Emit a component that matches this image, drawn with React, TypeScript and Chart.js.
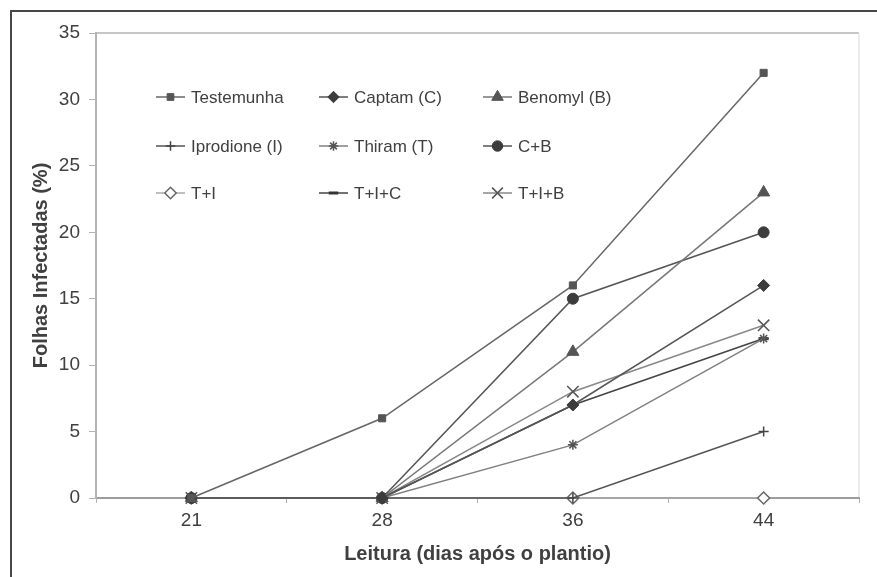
import React, { useEffect, useRef } from 'react';
import { Chart, registerables } from 'chart.js';
import { drawPoint } from 'chart.js/helpers';

Chart.register(...registerables);

const days = ['21', '28', '36', '44'];
const testemunha = [0, 6, 16, 32];
const captam = [0, 0, 7, 16];
const benomyl = [0, 0, 11, 23];
const iprodione = [0, 0, 0, 5];
const thiram = [0, 0, 4, 12];
const cb = [0, 0, 15, 20];
const ti = [0, 0, 0, 0];
const tic = [0, 0, 7, 12];
const tib = [0, 0, 8, 13];

const seriesNames = ['Testemunha', 'Captam (C)', 'Benomyl (B)', 'Iprodione (I)', 'Thiram (T)', 'C+B', 'T+I', 'T+I+C', 'T+I+B'];
const seriesValues = [testemunha, captam, benomyl, iprodione, thiram, cb, ti, tic, tib];

const yTitle = 'Folhas Infectadas (%)';
const xTitle = 'Leitura (dias após o plantio)';

const FONT = "'Liberation Sans', Arial, Helvetica, sans-serif";
const TEXT = '#404040';

const styles = [
  { ps: 'rect', r: 5, line: '#666', mk: '#555', fill: '#555', bw: 1 },
  { ps: 'rectRot', r: 6, line: '#555', mk: '#3c3c3c', fill: '#3c3c3c', bw: 1 },
  { ps: 'triangle', r: 7, line: '#777', mk: '#555', fill: '#555', bw: 1 },
  { ps: 'cross', r: 5, line: '#555', mk: '#444', fill: '#444', bw: 1.5 },
  { ps: 'star', r: 5, line: '#808080', mk: '#555', fill: '#555', bw: 1.5 },
  { ps: 'circle', r: 5.5, line: '#555', mk: '#3c3c3c', fill: '#3c3c3c', bw: 1 },
  { ps: 'rectRot', r: 6, line: '#aaa', mk: '#666', fill: '#fff', bw: 1.5 },
  { ps: 'line', r: 5, line: '#444', mk: '#333', fill: '#333', bw: 3 },
  { ps: 'crossRot', r: 8, line: '#888', mk: '#555', fill: '#555', bw: 1.5 },
];

const legendCols = [156, 319, 483];
const legendRows = [97, 146, 193];

export default function App() {
  const ref = useRef<HTMLCanvasElement>(null);

  useEffect(() => {
    if (!ref.current) return;

    const framePlugin = {
      id: 'frame',
      beforeDraw(chart: any) {
        const { ctx, width, height, chartArea: a } = chart;
        ctx.save();
        ctx.fillStyle = '#fff';
        ctx.fillRect(0, 0, width, height);
        ctx.strokeStyle = '#484848';
        ctx.lineWidth = 2;
        ctx.beginPath();
        ctx.moveTo(11, height + 5);
        ctx.lineTo(11, 11);
        ctx.lineTo(width + 5, 11);
        ctx.stroke();
        ctx.strokeStyle = '#c6c6c6';
        ctx.beginPath();
        ctx.moveTo(a.left, a.top);
        ctx.lineTo(a.right, a.top);
        ctx.stroke();
        ctx.strokeStyle = '#ebebeb';
        ctx.beginPath();
        ctx.moveTo(a.right, a.top);
        ctx.lineTo(a.right, a.bottom);
        ctx.stroke();
        ctx.restore();
      },
    };

    const legendPlugin = {
      id: 'gridLegend',
      afterDraw(chart: any) {
        const { ctx } = chart;
        ctx.save();
        chart.data.datasets.forEach((ds: any, i: number) => {
          const st = styles[i];
          const x0 = legendCols[i % 3];
          const y = legendRows[Math.floor(i / 3)];
          ctx.strokeStyle = st.line;
          ctx.lineWidth = 1.5;
          ctx.beginPath();
          ctx.moveTo(x0, y);
          ctx.lineTo(x0 + 29, y);
          ctx.stroke();
          ctx.fillStyle = st.fill;
          ctx.strokeStyle = st.mk;
          ctx.lineWidth = st.bw;
          drawPoint(ctx, { pointStyle: st.ps, radius: st.r * 0.95, rotation: 0, borderWidth: st.bw } as any, x0 + 14.5, y);
          ctx.fillStyle = TEXT;
          ctx.font = `17px ${FONT}`;
          ctx.textBaseline = 'middle';
          ctx.textAlign = 'left';
          ctx.fillText(ds.label, x0 + 35, y + 1);
        });
        ctx.restore();
      },
    };

    const chart = new Chart(ref.current, {
      type: 'line',
      data: {
        labels: days,
        datasets: seriesNames.map((name, i) => ({
          label: name,
          data: seriesValues[i],
          borderColor: styles[i].line,
          borderWidth: 1.5,
          pointStyle: styles[i].ps as any,
          pointRadius: styles[i].r,
          pointBackgroundColor: styles[i].fill,
          pointBorderColor: styles[i].mk,
          pointBorderWidth: styles[i].bw,
          tension: 0,
          fill: false,
          clip: false as any,
        })),
      },
      options: {
        responsive: false,
        animation: false,
        devicePixelRatio: 1,
        layout: { padding: { top: 33, right: 18, left: 0, bottom: 0 } },
        plugins: {
          legend: { display: false },
          tooltip: { enabled: false },
        },
        scales: {
          x: {
            type: 'category',
            offset: true,
            border: { color: '#9c9c9c', width: 2 },
            grid: {
              offset: true,
              drawOnChartArea: false,
              drawTicks: true,
              tickLength: 5,
              color: '#b0b0b0',
              lineWidth: 1,
            },
            ticks: {
              color: TEXT,
              font: { family: FONT, size: 19 },
              padding: 6,
              maxRotation: 0,
            },
            title: {
              display: true,
              text: xTitle,
              color: TEXT,
              font: { family: FONT, size: 20, weight: 'bold' },
              padding: { top: 0, bottom: 11 },
            },
            afterFit(scale: any) {
              scale.height = 79;
            },
          },
          y: {
            min: 0,
            max: 35,
            border: { color: '#b4b4b4', width: 2 },
            grid: {
              drawOnChartArea: false,
              drawTicks: true,
              tickLength: 7,
              color: '#b4b4b4',
            },
            ticks: {
              stepSize: 5,
              color: TEXT,
              font: { family: FONT, size: 19 },
              padding: 9,
            },
            title: {
              display: true,
              text: yTitle,
              color: TEXT,
              font: { family: FONT, size: 20, weight: 'bold' },
              padding: { top: 29, bottom: 0 },
            },
            afterFit(scale: any) {
              scale.width = 96;
            },
          },
        },
      },
      plugins: [framePlugin, legendPlugin],
    });

    return () => chart.destroy();
  }, []);

  return (
    <div style={{ position: 'absolute', left: 0, top: 0, width: 877, height: 577, background: '#fff' }}>
      <canvas ref={ref} width={877} height={577} style={{ display: 'block', width: 877, height: 577 }} />
    </div>
  );
}
